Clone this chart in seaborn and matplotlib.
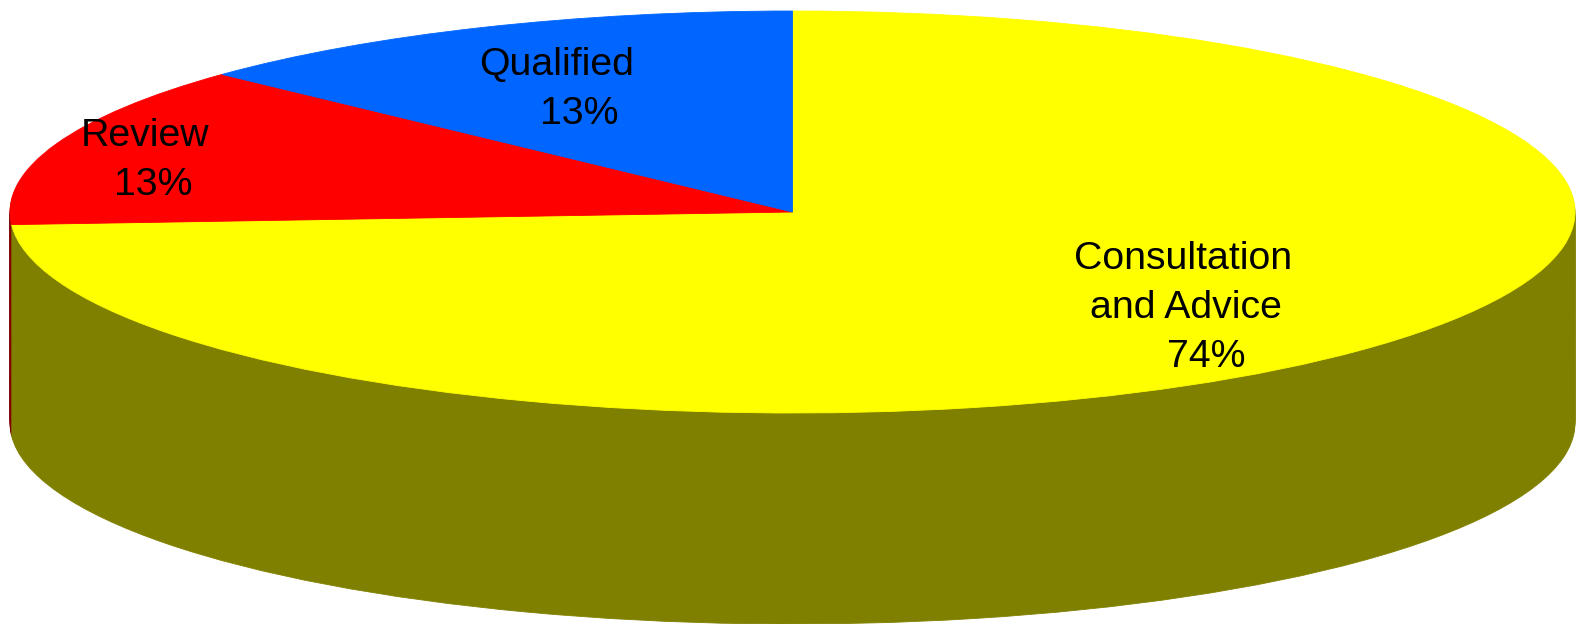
import matplotlib
matplotlib.use("Agg")
import matplotlib.pyplot as plt
import seaborn as sns

categories = ["Consultation\nand Advice", "Review", "Qualified"]
shares = [74, 13, 13]
top_colours = ["#FFFF00", "#FF0000", "#0066FF"]
side_colours = ["#808000", "#800000", "#003380"]

W, H = 1576, 624
CX, CY = 792.5, 212        # pie centre, pixels from the top left
RX, RY = 782.5, 201        # ellipse radii
DEPTH = 211                # height of the extruded wall

sns.set_theme(style="white")
plt.rcParams["font.family"] = ["Liberation Sans", "DejaVu Sans"]

fig = plt.figure(figsize=(W / 100, H / 100), dpi=100, facecolor="white")
ax = fig.add_axes([0, 0, 1, 1])


def draw_disc(colours, offset, z):
    wedges, _ = ax.pie(shares, colors=colours, startangle=90, counterclock=False,
                       center=(0, -offset), radius=1, frame=False)
    for w in wedges:
        w.set_zorder(z)
        w.set_edgecolor(w.get_facecolor())
        w.set_linewidth(0.6)


# The wall: dark copies of the disc stacked downward
steps = 140
for i in range(steps, 0, -1):
    draw_disc(side_colours, DEPTH / RY * i / steps, 1 + (steps - i) * 0.001)

draw_disc(top_colours, 0, 3)

ax.set_aspect("auto")
ax.set_xlim(-CX / RX, (W - CX) / RX)
ax.set_ylim((CY - H) / RY, CY / RY)
ax.axis("off")


def label(px, py, text):
    ax.text((px - CX) / RX, (CY - py) / RY, text, ha="center", va="center",
            fontsize=28.3, color="black", zorder=5)


label(1183, 259, "Consultation")
label(1186, 308, "and Advice")
label(1206, 357, f"{shares[0]}%")
label(145, 136, categories[1])
label(153, 185, f"{shares[1]}%")
label(557, 65, categories[2])
label(579, 114, f"{shares[2]}%")

fig.savefig("out.png", dpi=100, facecolor="white")
